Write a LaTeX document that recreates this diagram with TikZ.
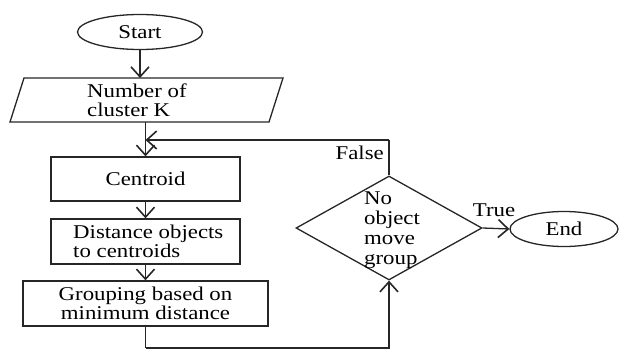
\documentclass[tikz,border=0pt]{standalone}
\usepackage{fontspec}
\setmainfont[FakeStretch=1.17]{Liberation Serif}
\usetikzlibrary{shapes.geometric,arrows.meta}
\begin{document}
\begin{tikzpicture}[x=1pt,y=-1pt,
  every node/.style={font=\fontsize{19.5}{19.5}\selectfont, inner sep=0pt},
  line/.style={draw=black!85, line width=1.3pt},
  arr/.style={line, -{Straight Barb[length=10pt,width=18pt,line width=1.6pt]}},
  term/.style={ellipse, draw=black!85, line width=1.3pt},
  proc/.style={rectangle, draw=black!85, line width=1.3pt},
  dec/.style={diamond, draw=black!85, line width=1.3pt, aspect=1.79}
]
\useasboundingbox (0,0) rectangle (620,350);
\node[term, minimum width=125pt, minimum height=35pt] (start) at (140,32) {Start};
% parallelogram
\coordinate (numtop) at (140,78);
\coordinate (numbot) at (145.5,122);
\draw[line] (10,122) -- (24,78) -- (283,78) -- (269,122) -- cycle;
\node[align=left, anchor=west] (numtext) at (87,100) {Number of\\cluster K};
\node[proc, minimum width=189pt, minimum height=44pt] (cent) at (145.5,179) {Centroid};
\node[proc, minimum width=189pt, minimum height=45pt] (dist) at (145.5,241.5) {};
\node[align=left, anchor=west] (disttext) at (73,241.5) {Distance objects\\to centroids};
\node[proc, minimum width=245pt, minimum height=45pt, align=center] (group) at (145.5,303.5) {Grouping based on\\minimum distance};
\node[dec, minimum width=186pt, minimum height=104pt] (dec) at (389,228) {};
\node[align=left, anchor=west, font=\fontsize{19.5}{20}\selectfont] (dectext) at (364,230) {No\\object\\move\\group};
\node[term, minimum width=108pt, minimum height=35pt] (end) at (564,229) {End};
\coordinate (fb) at (389,140);
\coordinate (bot) at (145.5,348);

\draw[arr] (start.south) -- (numtop);
\draw[arr] (numbot) -- (cent.north);
\draw[arr] (cent.south) -- (dist.north);
\draw[arr] (dist.south) -- (group.north);
\draw[line] (group.south) -- (bot);
\draw[arr] (bot) -| (dec.south);
\draw[line] (dec.north) -- (fb);
\draw[arr] (fb) -- (cent.north |- fb);
\draw[arr] (dec.east) -- (end.west);
\node[anchor=south east] (false) at (384,160) {False};
\node[anchor=south] (true) at (494,217) {True};
\end{tikzpicture}
\end{document}
